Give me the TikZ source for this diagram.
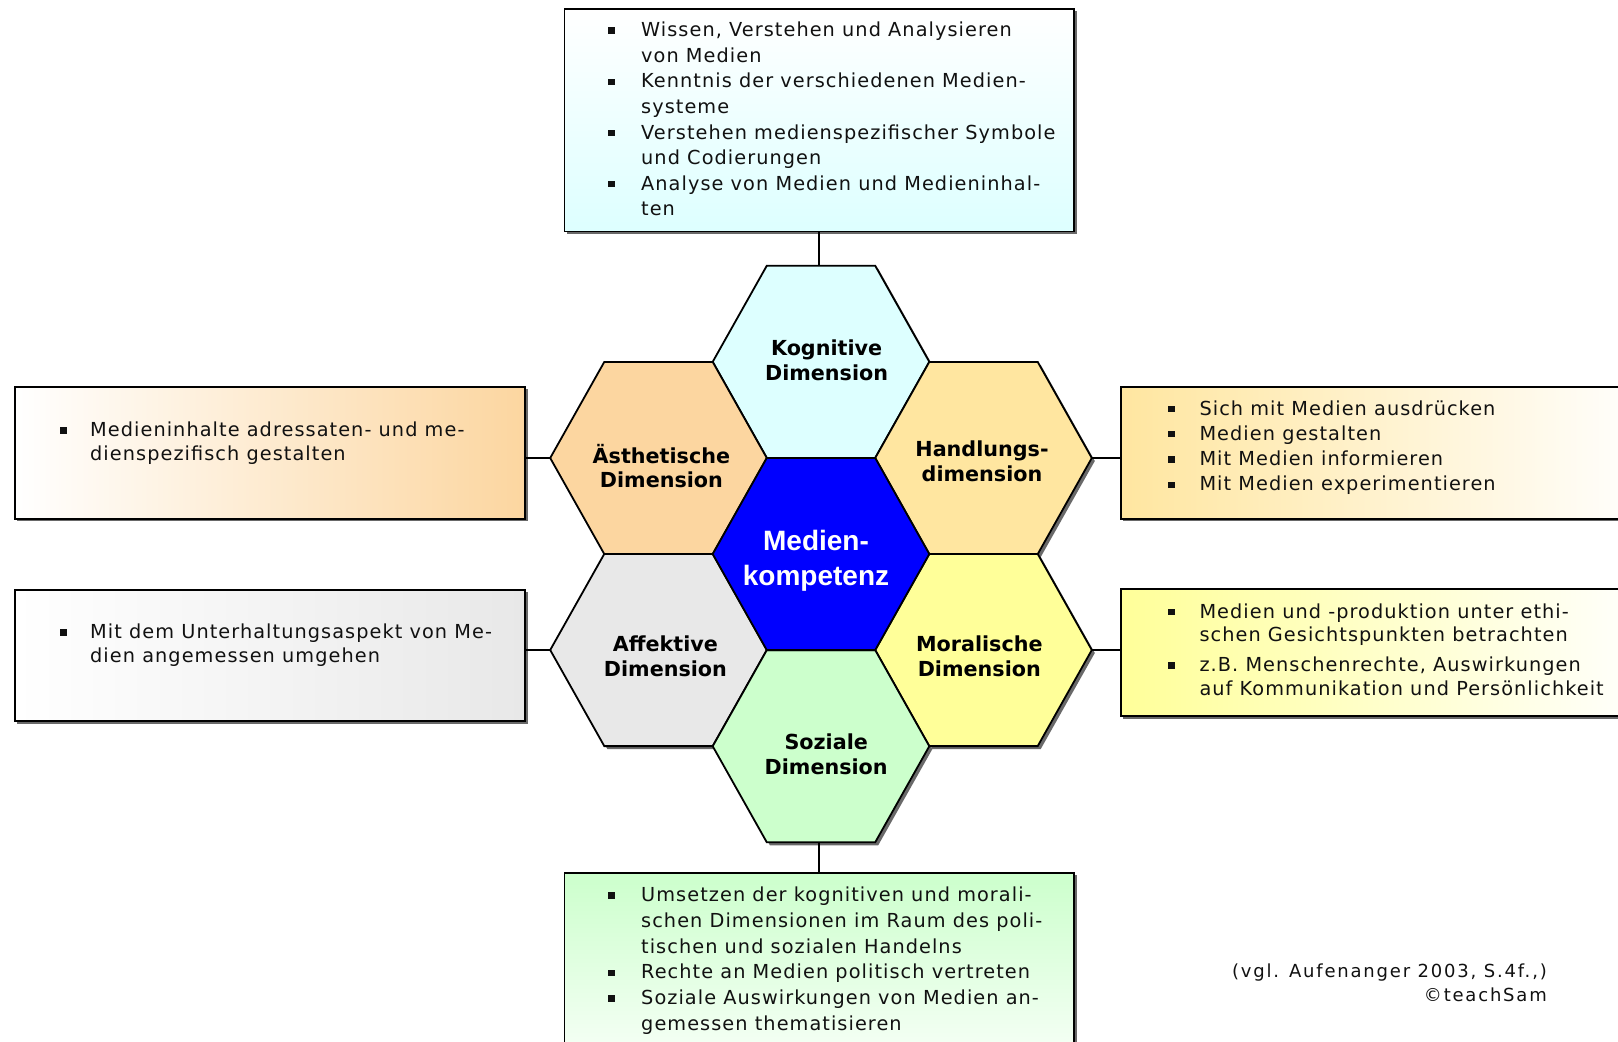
\documentclass[tikz,border=0pt]{standalone}
\usepackage{fontspec}
\newfontfamily\bodyfont{DejaVu Sans}[LetterSpace=5.5]
\newfontfamily\labfont{DejaVu Sans}
\newfontfamily\ctrfont{Liberation Sans}
\newfontfamily\citefont{DejaVu Sans}[LetterSpace=10]
\usetikzlibrary{calc}

\definecolor{kogc}{RGB}{221,255,255}
\definecolor{aesc}{RGB}{252,214,160}
\definecolor{hanc}{RGB}{255,230,160}
\definecolor{affc}{RGB}{232,232,232}
\definecolor{morc}{RGB}{255,255,153}
\definecolor{sozc}{RGB}{204,255,204}
\definecolor{medc}{RGB}{0,0,255}
\definecolor{shadc}{RGB}{105,105,105}
\definecolor{txtc}{RGB}{17,17,17}

\newcommand{\bul}{\raisebox{3pt}{\rule{6.3pt}{6.3pt}}}
\newcommand{\hexshadow}[2]{\fill[shadc] (#1-105.3,#2+3) -- (#1-51.1,#2-93.1) -- (#1+57.2,#2-93.1) -- (#1+111.3,#2+3) -- (#1+57.2,#2+99.1) -- (#1-51.1,#2+99.1) -- cycle;}
\newcommand{\hexfill}[4]{\draw[hexline, fill=#4] (#2-108.3,#3) coordinate (#1-l) -- (#2-54.2,#3-96.1) -- (#2,#3-96.1) coordinate (#1-t) -- (#2+54.2,#3-96.1) -- (#2+108.3,#3) coordinate (#1-r) -- (#2+54.2,#3+96.1) -- (#2,#3+96.1) coordinate (#1-b) -- (#2-54.2,#3+96.1) -- cycle;}

\begin{document}
\begin{tikzpicture}[x=1pt,y=-1pt,
  box/.style={draw=black, line width=1.9pt, inner sep=0pt, anchor=north west},
  hexline/.style={draw=black, line width=1.8pt, line join=miter},
  conn/.style={draw=black, line width=1.7pt},
  body/.style={inner sep=0pt, anchor=base west, text=txtc, font=\bodyfont\fontsize{19.3}{#1}\selectfont},
  lab/.style={inner sep=0pt, anchor=base, font=\labfont\bfseries\fontsize{20.7}{24.5}\selectfont},
]
\useasboundingbox (0,0) rectangle (1618,1042);
\clip (0,0) rectangle (1618,1042);
\fill[white] (0,0) rectangle (1618,1042);

% box shadows
\fill[shadc] (566.5,11.3) rectangle (1076.5,234);
\fill[shadc] (17,389) rectangle (527.5,521);
\fill[shadc] (17,592) rectangle (527.5,723.5);
\fill[shadc] (1123,389) rectangle (1653,521);
\fill[shadc] (1123,591.3) rectangle (1653,718.5);
\fill[shadc] (566.5,875.3) rectangle (1076.5,1097.3);

% boxes
\node[box, minimum width=509.5pt, minimum height=222.2pt, top color=white, bottom color=kogc] (topbox) at (563.5,8.3) {};
\node[box, minimum width=510pt, minimum height=131.7pt, left color=white, right color=aesc] (aesbox) at (14,386) {};
\node[box, minimum width=510pt, minimum height=131pt, left color=white, right color=affc] (affbox) at (14,589) {};
\node[box, minimum width=530pt, minimum height=131.7pt, left color=hanc, right color=white] (hanbox) at (1120,386) {};
\node[box, minimum width=530pt, minimum height=126.7pt, left color=morc, right color=white] (morbox) at (1120,588.3) {};
\node[box, minimum width=509.5pt, minimum height=222pt, top color=sozc, bottom color=white] (sozbox) at (563.5,872.3) {};

% hexagon shadows
\hexshadow{821}{361.8}
\hexshadow{658.5}{458}
\hexshadow{983.5}{458}
\hexshadow{821}{554}
\hexshadow{658.5}{650}
\hexshadow{983.5}{650}
\hexshadow{821}{746.2}

% hexagons
\hexfill{kog}{821}{361.8}{kogc}
\hexfill{aes}{658.5}{458}{aesc}
\hexfill{han}{983.5}{458}{hanc}
\hexfill{aff}{658.5}{650}{affc}
\hexfill{mor}{983.5}{650}{morc}
\hexfill{soz}{821}{746.2}{sozc}
\hexfill{med}{821}{554}{medc}

% connectors
\draw[conn] (topbox.south) -- (topbox.south |- kog-t);
\draw[conn] (aes-l) -- (aes-l -| aesbox.east);
\draw[conn] (aff-l) -- (aff-l -| affbox.east);
\draw[conn] (han-r) -- (han-r -| hanbox.west);
\draw[conn] (mor-r) -- (mor-r -| morbox.west);
\draw[conn] (sozbox.north) -- (sozbox.north |- soz-b);

% hexagon labels
\node[lab] (kogtext) at (826.6,355.5) {\begin{tabular}[t]{@{}c@{}}Kognitive\\Dimension\end{tabular}};
\node[lab] (aestext) at (661.4,463.2) {\begin{tabular}[t]{@{}c@{}}Ästhetische\\Dimension\end{tabular}};
\node[lab] (hantext) at (982,456.7) {\begin{tabular}[t]{@{}c@{}}Handlungs-\\dimension\end{tabular}};
\node[lab] (afftext) at (665.4,651.8) {\begin{tabular}[t]{@{}c@{}}Affektive\\Dimension\end{tabular}};
\node[lab] (mortext) at (979.3,651.8) {\begin{tabular}[t]{@{}c@{}}Moralische\\Dimension\end{tabular}};
\node[lab] (soztext) at (826.2,749.6) {\begin{tabular}[t]{@{}c@{}}Soziale\\Dimension\end{tabular}};
\node[inner sep=0pt, anchor=base, text=white, font=\ctrfont\bfseries\fontsize{28}{35}\selectfont] (medtext) at (816,550) {\begin{tabular}[t]{@{}c@{}}Medien-\\kompetenz\end{tabular}};

% box texts
\node[body=25.6pt] (toplist) at (608,36.7) {\begin{tabular}[t]{@{}p{33pt}@{}l@{}}
\bul & Wissen, Verstehen und Analysieren\\
 & von Medien\\
\bul & Kenntnis der verschiedenen Medien-\\
 & systeme\\
\bul & Verstehen medienspezifischer Symbole\\
 & und Codierungen\\
\bul & Analyse von Medien und Medieninhal-\\
 & ten
\end{tabular}};

\node[body=24pt] (aeslist) at (60,436.7) {\begin{tabular}[t]{@{}p{30pt}@{}l@{}}
\bul & Medieninhalte adressaten- und me-\\
 & dienspezifisch gestalten
\end{tabular}};

\node[body=24pt] (afflist) at (60,638.5) {\begin{tabular}[t]{@{}p{30pt}@{}l@{}}
\bul & Mit dem Unterhaltungsaspekt von Me-\\
 & dien angemessen umgehen
\end{tabular}};

\node[body=25.3pt] (hanlist) at (1168,415) {\begin{tabular}[t]{@{}p{31.3pt}@{}l@{}}
\bul & Sich mit Medien ausdrücken\\
\bul & Medien gestalten\\
\bul & Mit Medien informieren\\
\bul & Mit Medien experimentieren
\end{tabular}};

\node[body=23.4pt] (morlist) at (1168,618.3) {\begin{tabular}[t]{@{}p{31.3pt}@{}l@{}}
\bul & Medien und -produktion unter ethi-\\
 & schen Gesichtspunkten betrachten\\[6.6pt]
\bul & z.B. Menschenrechte, Auswirkungen\\
 & auf Kommunikation und Persönlichkeit
\end{tabular}};

\node[body=25.7pt] (sozlist) at (608,901.7) {\begin{tabular}[t]{@{}p{33pt}@{}l@{}}
\bul & Umsetzen der kognitiven und morali-\\
 & schen Dimensionen im Raum des poli-\\
 & tischen und sozialen Handelns\\
\bul & Rechte an Medien politisch vertreten\\
\bul & Soziale Auswirkungen von Medien an-\\
 & gemessen thematisieren
\end{tabular}};

\node[inner sep=0pt, anchor=base east, text=txtc, font=\citefont\fontsize{18}{24}\selectfont] (cite) at (1547,977) {\begin{tabular}[t]{@{}r@{}}(vgl. Aufenanger 2003, S.4f.,)\\©teachSam\end{tabular}};
\end{tikzpicture}
\end{document}
